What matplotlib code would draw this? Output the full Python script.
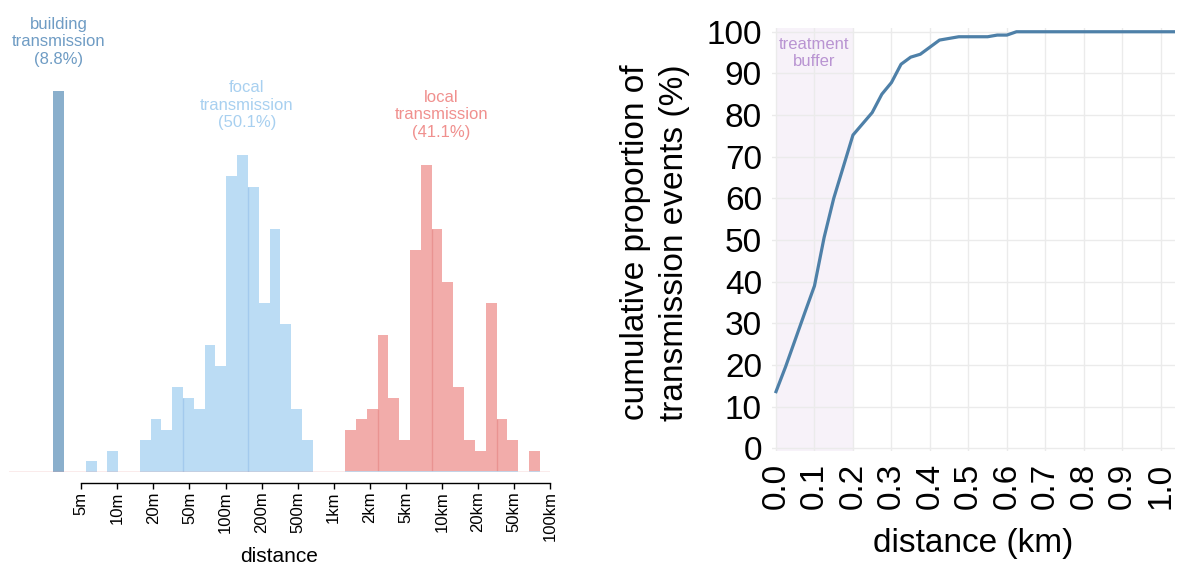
import numpy as np
import matplotlib
matplotlib.use("Agg")
import matplotlib.pyplot as plt

plt.rcParams['font.family'] = ['Liberation Sans', 'DejaVu Sans']

# left panel: histogram of transmission distances (counts per log bin)
building_bins = [0]
building_counts = [36]
focal_bins = list(range(3, 24))
focal_counts = [1, 0, 2, 0, 0, 3, 5, 4, 8, 7, 6, 12, 10, 28, 30, 27, 16, 23, 14, 6, 3]
local_bins = list(range(27, 45))
local_counts = [4, 5, 6, 13, 7, 3, 21, 29, 23, 18, 8, 3, 2, 16, 5, 3, 0, 2]
dist_labels = ["5m", "10m", "20m", "50m", "100m", "200m", "500m",
               "1km", "2km", "5km", "10km", "20km", "50km", "100km"]
focal_seams = [12, 18]
local_seams = [30, 35, 41]

# right panel: cumulative proportion of transmission events
dist_km = [0.0, 0.025, 0.05, 0.075, 0.1, 0.125, 0.15, 0.175, 0.2, 0.225, 0.25,
           0.275, 0.3, 0.325, 0.35, 0.375, 0.4, 0.425, 0.45, 0.475, 0.5, 0.525,
           0.55, 0.575, 0.6, 0.625, 1.05]
cum_pct = [13.6, 19.6, 26.1, 32.6, 39.0, 50.6, 60.0, 67.6, 75.2, 77.9, 80.6,
           85.0, 87.8, 92.2, 93.9, 94.6, 96.3, 98.0, 98.4, 98.8, 98.8, 98.8,
           98.8, 99.2, 99.2, 100.0, 100.0]

c_build, c_build_txt = "#8aafcc", "#6f9cc4"
c_focal, c_focal_txt, c_focal_seam = "#bbdcf4", "#a8d0f0", "#a3caed"
c_local, c_local_txt, c_local_seam = "#f2acaa", "#f0908e", "#e99391"

W, H = 1180, 565
fig = plt.figure(figsize=(W / 100, H / 100), dpi=100)

# ---- left histogram ----
px_left, px_right, px_base = 9, 550, 472
bin_px = 10.81
bin0_px = 53.3
unit_px = 10.57
ymax = 40
ax = fig.add_axes([px_left / W, (H - px_base) / H,
                   (px_right - px_left) / W, ymax * unit_px / H])
ax.set_xlim((px_left - bin0_px) / bin_px, (px_right - bin0_px) / bin_px)
ax.set_ylim(0, ymax)

ax.bar(building_bins, building_counts, width=1, align='edge', color=c_build, lw=0)
ax.bar(focal_bins, focal_counts, width=1, align='edge', color=c_focal, lw=0)
ax.bar(local_bins, local_counts, width=1, align='edge', color=c_local, lw=0)

# faint seams where neighbouring bars overlap
fc = dict(zip(focal_bins, focal_counts))
lc = dict(zip(local_bins, local_counts))
for k in focal_seams:
    ax.vlines(k, 0, min(fc[k - 1], fc[k]), color=c_focal_seam, lw=1)
for k in local_seams:
    ax.vlines(k, 0, min(lc[k - 1], lc[k]), color=c_local_seam, lw=1)

ax.axhline(0, color="#e89a9a", lw=1, zorder=3)
for k, v in zip(local_bins, local_counts):
    if v > 0:
        ax.hlines(0, k, k + 1, color=c_focal, lw=1.2, zorder=4)

tick_pos = [(81.33 + 36.05 * i - bin0_px) / bin_px for i in range(len(dist_labels))]
ax.set_xticks(tick_pos, dist_labels)
ax.tick_params(axis='x', length=4, width=1, pad=2, labelsize=12,
               labelrotation=90, colors='black', direction='out')
ax.set_yticks([])
for s in ['top', 'left', 'right']:
    ax.spines[s].set_visible(False)
sp = ax.spines['bottom']
sp.set_visible(True)
sp.set_color('black')
sp.set_linewidth(1)
sp.set_position(('outward', 8))
sp.set_bounds(tick_pos[0], tick_pos[-1])

ax.text(0.5, 40.7, "building\ntransmission\n(8.8%)", ha='center', va='center',
        fontsize=12, color=c_build_txt, linespacing=1.2, clip_on=False)
ax.text(17.9, 34.7, "focal\ntransmission\n(50.1%)", ha='center', va='center',
        fontsize=12, color=c_focal_txt, linespacing=1.2)
ax.text(35.9, 33.8, "local\ntransmission\n(41.1%)", ha='center', va='center',
        fontsize=12, color=c_local_txt, linespacing=1.2)
fig.text(279 / W, (H - 562) / H, "distance", ha='center', va='baseline', fontsize=15)

# ---- right cumulative curve ----
rx0, rx1, ry0, ry1 = 771.7, 1175, 28, 450.7
ax2 = fig.add_axes([rx0 / W, (H - ry1) / H, (rx1 - rx0) / W, (ry1 - ry0) / H])
ax2.set_xlim(-0.0112, 1.037)
ax2.set_ylim(-0.58, 100.9)
ax2.axvspan(0, 0.2, color="#f7f2f9", lw=0, zorder=0)
ax2.plot(dist_km, cum_pct, color="#4e80a8", lw=2.3, solid_joinstyle='round', zorder=3)
ax2.set_xticks(np.arange(0, 1.01, 0.1))
ax2.set_xticklabels([f"{v:.1f}" for v in np.arange(0, 1.01, 0.1)], rotation=90)
ax2.set_yticks(range(0, 101, 10))
ax2.tick_params(axis='both', labelsize=24, length=0)
ax2.tick_params(axis='x', pad=9)
ax2.tick_params(axis='y', pad=7)
ax2.grid(True, color="#ebebeb", lw=1)
ax2.set_axisbelow(True)
for s in ax2.spines.values():
    s.set_visible(False)
ax2.text(0.1, 94.9, "treatment\nbuffer", ha='center', va='center', fontsize=12,
         color="#b994d2", linespacing=1.2)

fig.text(655 / W, (H - 242.5) / H, "cumulative proportion of\ntransmission events (%)",
         rotation=90, ha='center', va='center', fontsize=24, linespacing=1.3,
         multialignment='center')
fig.text(973 / W, (H - 551.7) / H, "distance (km)", ha='center', va='baseline',
         fontsize=24)

fig.savefig("out.png", dpi=100)
